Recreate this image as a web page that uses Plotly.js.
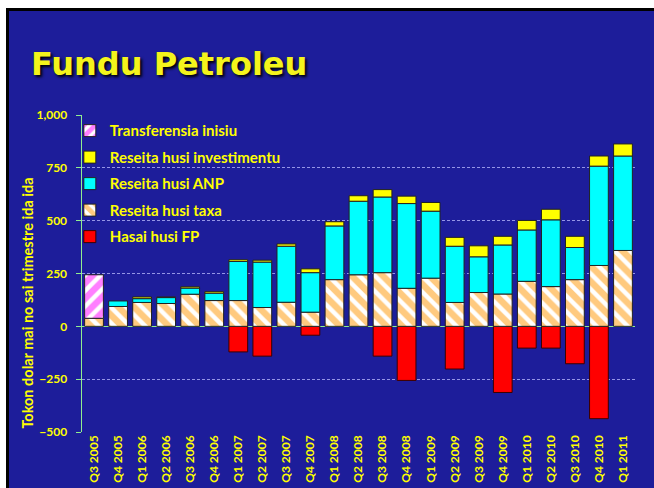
<!DOCTYPE html>
<html>
<head>
<meta charset="utf-8">
<script src="https://cdn.plot.ly/plotly-3.0.1.min.js"></script>
<style>
  html, body { margin: 0; padding: 0; background: #ffffff; width: 654px; height: 488px; overflow: hidden; }
  #frame { position: absolute; left: 6px; top: 8px; border-left: 3px solid #000; border-top: 3px solid #000; width: 645px; height: 477px; background: #1d1d9a; }
  #chart { width: 645px; height: 477px; }
</style>
</head>
<body>
<div id="frame"><div id="chart"></div></div>
<script>
var categories = ['Q3 2005','Q4 2005','Q1 2006','Q2 2006','Q3 2006','Q4 2006','Q1 2007','Q2 2007','Q3 2007','Q4 2007','Q1 2008','Q2 2008','Q3 2008','Q4 2008','Q1 2009','Q2 2009','Q3 2009','Q4 2009','Q1 2010','Q2 2010','Q3 2010','Q4 2010','Q1 2011'];
var taxa       = [38, 94, 113, 108, 152, 122, 122, 89, 114, 67, 221, 244, 254, 180, 228, 113, 160, 153, 213, 188, 221, 288, 359];
var transfer   = [206, null, null, null, null, null, null, null, null, null, null, null, null, null, null, null, null, null, null, null, null, null, null];
var anp        = [null, 26, 18, 28, 29, 35, 185, 215, 265, 187, 254, 348, 358, 401, 317, 266, 169, 232, 243, 316, 152, 470, 447];
var invest     = [null, null, 8, 3, 6, 7, 8, 9, 11, 18, 20, 26, 35, 35, 41, 42, 52, 41, 45, 50, 53, 48, 57];
var fp         = [null, null, null, null, null, null, -121, -141, null, -42, null, null, -141, -256, null, -202, null, -313, -103, -103, -177, -437, null];
var yTicks     = [-500, -250, 0, 250, 500, 750, 1000];

var yellow = '#ffff00';
var fam = 'Lato, "Open Sans", sans-serif';
var outline = {color: '#222222', width: 1};

var traces = [
  {name: 'Hasai husi FP', x: categories, y: fp, type: 'bar', legendrank: 5, legendgroup: 'e',
   marker: {color: '#ff0000', line: {color: '#3a0000', width: 1}}},
  {name: 'Reseita husi taxa', x: categories, y: taxa, type: 'bar', legendrank: 4, legendgroup: 'd',
   marker: {color: '#ffffff', line: outline,
            pattern: {shape: '\\', fgcolor: '#ff9500', bgcolor: '#ffffff', size: 11, solidity: 0.6, fillmode: 'overlay'}}},
  {name: 'Transferensia inisiu', x: categories, y: transfer, type: 'bar', legendrank: 1, legendgroup: 'a',
   marker: {color: '#ffffff', line: outline,
            pattern: {shape: '/', fgcolor: '#ff00ff', bgcolor: '#ffffff', size: 11, solidity: 0.6, fillmode: 'overlay'}}},
  {name: 'Reseita husi ANP', x: categories, y: anp, type: 'bar', legendrank: 3, legendgroup: 'c',
   marker: {color: '#00ffff', line: outline}},
  {name: 'Reseita husi investimentu', x: categories, y: invest, type: 'bar', legendrank: 2, legendgroup: 'b',
   marker: {color: '#ffff00', line: outline}}
];

var layout = {
  width: 645, height: 477,
  paper_bgcolor: '#1d1d9a', plot_bgcolor: 'rgba(0,0,0,0)',
  margin: {l: 73, r: 19, t: 104, b: 56},
  barmode: 'relative', bargap: 0.22,
  title: {text: 'Fundu Petroleu', xref: 'container', yref: 'container',
          x: 22/645, xanchor: 'left', y: 1 - 53/477, yanchor: 'middle',
          font: {family: '"DejaVu Sans", sans-serif', size: 32, color: '#f4f41c', weight: 'bold', shadow: '2px 2px 3px #000000'}},
  xaxis: {type: 'category', tickangle: -90, showgrid: false, showline: false, zeroline: false,
          tickfont: {family: fam, size: 12, color: yellow, weight: 'bold'}, ticks: '', fixedrange: true},
  yaxis: {range: [-500, 1000], tickvals: yTicks, tickformat: ',', showline: true, linecolor: '#90ee90', linewidth: 1.5,
          ticks: 'outside', ticklen: 5, tickcolor: '#90ee90', ticklabelstandoff: 6,
          gridcolor: 'rgba(190,190,255,0.75)', griddash: '3px,2px', gridwidth: 1,
          zeroline: true, zerolinecolor: '#90ee90', zerolinewidth: 1.5,
          tickfont: {family: fam, size: 12, color: yellow, weight: 'bold'}, fixedrange: true},
  legend: {x: -0.022, xanchor: 'left', y: 1.002, yanchor: 'top', traceorder: 'grouped', tracegroupgap: 4,
           bgcolor: 'rgba(0,0,0,0)', font: {family: fam, size: 15, color: yellow, weight: 'bold'}},
  annotations: [
    {text: 'Tokon dolar mai no sai trimestre ida ida', xref: 'paper', yref: 'paper',
     x: (28 - 82) / 553, y: 0.405, textangle: -90, showarrow: false, xanchor: 'center', yanchor: 'middle',
     font: {family: fam, size: 14.5, color: yellow, weight: 'bold'}}
  ],
  showlegend: true
};

Plotly.newPlot('chart', traces, layout, {displayModeBar: false, staticPlot: true});
</script>
</body>
</html>
